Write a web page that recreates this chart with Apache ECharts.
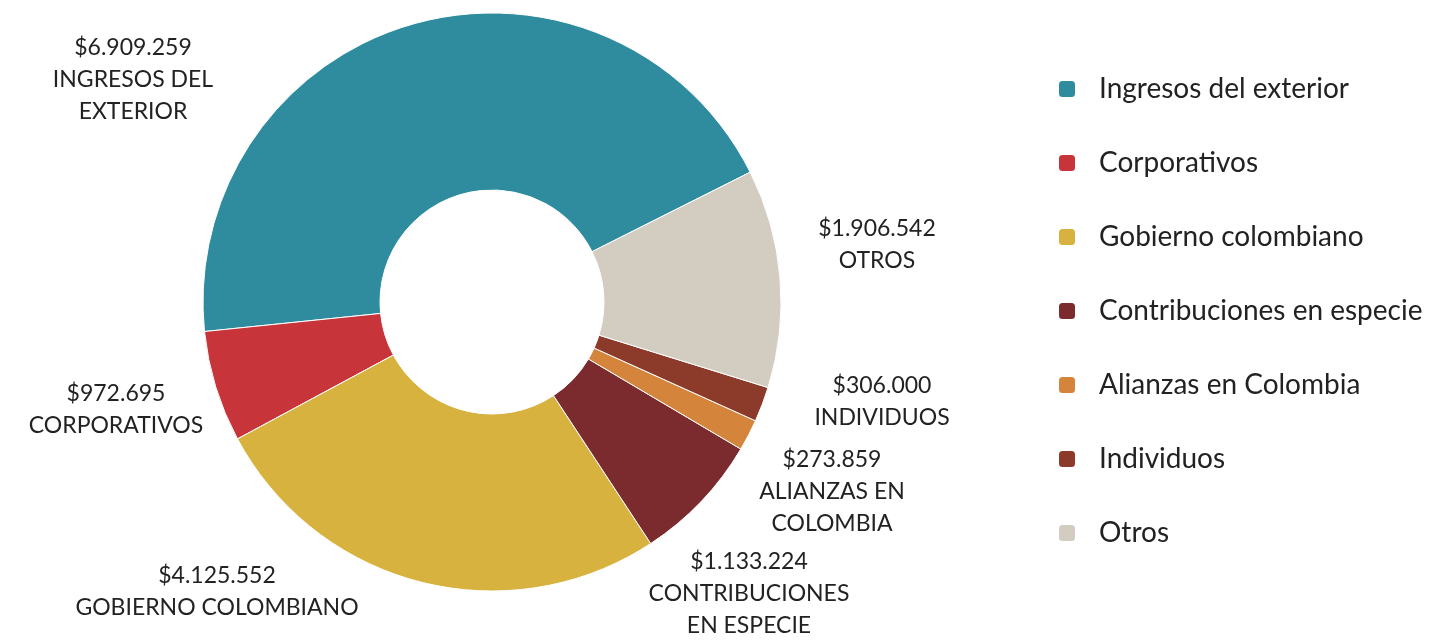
<!DOCTYPE html>
<html>
<head>
<meta charset="utf-8">
<script src="https://cdn.jsdelivr.net/npm/echarts@6/dist/echarts.min.js"></script>
<style>
html,body{margin:0;padding:0;background:#fff;}
#chart{width:1456px;height:642px;}
</style>
</head>
<body>
<div id="chart"></div>
<script>
// Data
const categories = ['Ingresos del exterior','Corporativos','Gobierno colombiano','Contribuciones en especie','Alianzas en Colombia','Individuos','Otros'];
const values = [6909259, 972695, 4125552, 1133224, 273859, 306000, 1906542];
const labelNames = ['INGRESOS DEL\nEXTERIOR','CORPORATIVOS','GOBIERNO COLOMBIANO','CONTRIBUCIONES\nEN ESPECIE','ALIANZAS EN\nCOLOMBIA','INDIVIDUOS','OTROS'];

// Styles / layout
const colors = ['#2f8c9f','#c7353b','#d8b23e','#7b2a2d','#d5843b','#8c3a2a','#d3ccc1'];
const labelCenters = [[133,80],[116,410],[217,592],[749,594],[832,492],[882,402],[877,245]];

function fmt(v){ return '$' + String(v).replace(/\B(?=(\d{3})+(?!\d))/g, '.'); }

const chart = echarts.init(document.getElementById('chart'));
chart.setOption({
  backgroundColor: '#ffffff',
  animation: false,
  color: colors,
  legend: {
    orient: 'vertical',
    left: 1057,
    top: 75,
    padding: 0,
    itemWidth: 18,
    itemHeight: 18,
    itemGap: 46,
    icon: 'roundRect',
    data: categories,
    textStyle: {
      fontFamily: 'Lato',
      fontSize: 28,
      color: '#222',
      lineHeight: 28,
      padding: [0,0,0,18]
    }
  },
  series: [{
    type: 'pie',
    center: [492, 302],
    radius: [112, 289],
    startAngle: 26.7,
    clockwise: false,
    avoidLabelOverlap: false,
    itemStyle: { borderColor: '#fff', borderWidth: 1 },
    labelLine: { show: false },
    label: {
      show: true,
      position: 'outside',
      fontFamily: 'Lato',
      fontSize: 23,
      color: '#222',
      lineHeight: 32,
      align: 'center',
      formatter: p => fmt(p.value) + '\n' + labelNames[p.dataIndex]
    },
    labelLayout: p => ({
      x: labelCenters[p.dataIndex][0],
      y: labelCenters[p.dataIndex][1],
      align: 'center',
      verticalAlign: 'middle'
    }),
    data: categories.map((c, i) => ({ name: c, value: values[i] }))
  }]
});
</script>
</body>
</html>
